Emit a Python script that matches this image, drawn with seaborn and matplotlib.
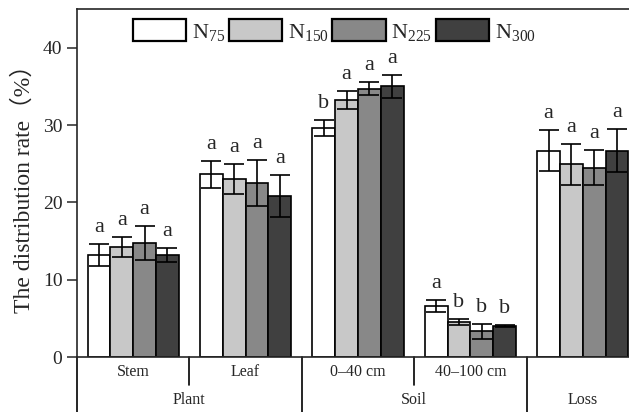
import pandas as pd
import numpy as np
import matplotlib
matplotlib.use('Agg')
import matplotlib.pyplot as plt
import seaborn as sns

# categories and treatments
parts = ['Stem', 'Leaf', '0\u201340 cm', '40\u2013100 cm', 'Loss']
part_labels = ['Stem', 'Leaf', '0\u201340 cm', '40\u2013100 cm', '']
treats = ['N$_{75}$', 'N$_{150}$', 'N$_{225}$', 'N$_{300}$']

# distribution rate (%) per treatment, in order of parts
n75 = [13.2, 23.6, 29.6, 6.6, 26.7]
n150 = [14.2, 23.0, 33.2, 4.55, 24.9]
n225 = [14.7, 22.5, 34.7, 3.3, 24.5]
n300 = [13.2, 20.8, 35.0, 4.0, 26.7]

# standard errors
e75 = [1.4, 1.75, 1.05, 0.75, 2.6]
e150 = [1.3, 1.95, 1.15, 0.4, 2.65]
e225 = [2.2, 3.0, 0.85, 1.0, 2.3]
e300 = [0.9, 2.75, 1.5, 0.15, 2.8]

# significance letters
l75 = ['a', 'a', 'b', 'a', 'a']
l150 = ['a', 'a', 'a', 'b', 'a']
l225 = ['a', 'a', 'a', 'b', 'a']
l300 = ['a', 'a', 'a', 'b', 'a']

groups = ['Plant', 'Soil', 'Loss']
group_pos = [0.5, 2.5, 4.0]

colors = ['#ffffff', '#c8c8c8', '#888888', '#404040']

vals = [n75, n150, n225, n300]
errs = [e75, e150, e225, e300]
lets = [l75, l150, l225, l300]

rows = []
for t, v in zip(treats, vals):
    for p, y in zip(parts, v):
        rows.append({'part': p, 'treat': t, 'rate': y})
df = pd.DataFrame(rows)

sns.set_style('ticks')
plt.rcParams['font.family'] = ['Liberation Serif', 'Noto Sans CJK SC']
plt.rcParams['mathtext.fontset'] = 'custom'
plt.rcParams['mathtext.rm'] = 'Liberation Serif'
plt.rcParams['mathtext.it'] = 'Liberation Serif'

fig = plt.figure(figsize=(6.29, 4.12), dpi=100)
ax = fig.add_axes([77/629, 1-357/412, 562/629, 348/412])

sns.barplot(data=df, x='part', y='rate', hue='treat', order=parts, hue_order=treats,
            palette=colors, edgecolor='black', linewidth=1.2, width=0.81, gap=0,
            errorbar=None, ax=ax)

bars = list(ax.containers)
for i, cont in enumerate(bars):
    xs = [b.get_x() + b.get_width()/2 for b in cont]
    ax.errorbar(xs, vals[i], yerr=errs[i], fmt='none', ecolor='black',
                elinewidth=1.2, capsize=7, capthick=1.2, zorder=5)
    for x, y, e, s in zip(xs, vals[i], errs[i], lets[i]):
        ax.text(x, y + e + 0.9, s, ha='center', va='bottom', fontsize=16)

ax.set_ylim(0, 45)
ax.set_xlim(-0.5, 4.5)
ax.set_yticks([0, 10, 20, 30, 40])
ax.set_xticks(range(len(parts)))
ax.set_xticklabels(part_labels)
ax.tick_params(axis='y', direction='out', length=7, width=1.1, labelsize=14)
ax.tick_params(axis='x', length=0, labelsize=11.5, pad=5)
ax.set_xlabel('')
ax.set_ylabel('The distribution rate\uff08%\uff09', fontsize=17, labelpad=6)
for s in ax.spines.values():
    s.set_linewidth(1.2)

# table-like separators under the x axis
tr = ax.get_xaxis_transform()
ax.plot([-0.5, -0.5], [0, -0.2], color='black', lw=1.2, transform=tr, clip_on=False)
for x in [1.5, 3.5]:
    ax.plot([x, x], [0, -0.2], color='black', lw=1.2, transform=tr, clip_on=False)
for x in [0.5, 2.5]:
    ax.plot([x, x], [0, -0.08], color='black', lw=1.2, transform=tr, clip_on=False)
for g, x in zip(groups, group_pos):
    ax.text(x, -0.125, g, ha='center', va='center', fontsize=11.5, transform=tr)

ax.legend(loc='center', bbox_to_anchor=(334.5/629, 1-31/412), bbox_transform=fig.transFigure,
          ncol=4, frameon=False, fontsize=16, handlelength=2.4, handleheight=1.12,
          handletextpad=0.25, columnspacing=0.17, borderpad=0)
for h in ax.get_legend().legend_handles:
    h.set_linewidth(1.6)

fig.savefig('out.png', dpi=100)
